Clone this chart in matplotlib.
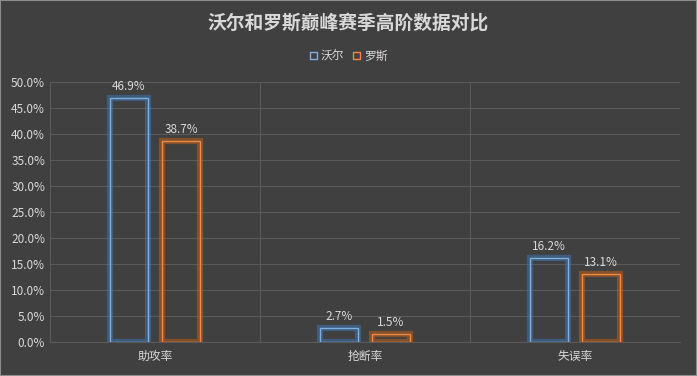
import matplotlib
matplotlib.use("Agg")
import matplotlib.pyplot as plt
import matplotlib.patheffects as pe
import numpy as np

plt.rcParams['font.family'] = ['Noto Sans CJK SC', 'DejaVu Sans']

categories = ["助攻率", "抢断率", "失误率"]
wall = [46.9, 2.7, 16.2]
ross = [38.7, 1.5, 13.1]
series_names = ["沃尔", "罗斯"]
yticks = [0, 5, 10, 15, 20, 25, 30, 35, 40, 45, 50]

bg = "#404040"
txt = "#d9d9d9"
blue = "#7fb0e0"
orange = "#f08a45"

fig = plt.figure(figsize=(6.97, 3.76), dpi=100, facecolor=bg)
fig.patches.append(plt.Rectangle((0, 0), 1, 1, transform=fig.transFigure,
                                 fill=False, edgecolor="#8c8c8c", linewidth=1.5))
ax = fig.add_axes([0.0717, 0.0904, 0.9039, 0.6916])
ax.set_facecolor(bg)

x = np.arange(len(categories))
w = 0.18
off = 0.124
glow_b = [pe.Stroke(linewidth=4.5, foreground="#3d6fa5", alpha=0.6), pe.Normal()]
glow_o = [pe.Stroke(linewidth=4.5, foreground="#b05c20", alpha=0.6), pe.Normal()]
b1 = ax.bar(x - off, wall, w, facecolor="none", edgecolor=blue, linewidth=1.0,
            label=series_names[0], zorder=3)
b2 = ax.bar(x + off, ross, w, facecolor="none", edgecolor=orange, linewidth=1.0,
            label=series_names[1], zorder=3)
for r in b1:
    r.set_path_effects(glow_b)
for r in b2:
    r.set_path_effects(glow_o)

for xs, vals in [(x - off, wall), (x + off, ross)]:
    for xi, v in zip(xs, vals):
        ax.text(xi, v + 1.0, "%.1f%%" % v, ha="center", va="bottom",
                color=txt, fontsize=8.5)

ax.set_xlim(-0.5, 2.5)
ax.set_ylim(0, 50)
ax.set_yticks(yticks)
ax.set_yticklabels(["%.1f%%" % t for t in yticks])
ax.set_xticks(x)
ax.set_xticklabels(categories)
ax.set_xticks([0.5, 1.5], minor=True)
ax.tick_params(axis="both", which="both", length=0, colors=txt, labelsize=8.5)
ax.tick_params(axis="x", pad=6)
ax.grid(axis="y", color="#5a5a5a", linewidth=0.8)
ax.grid(axis="x", which="minor", color="#5a5a5a", linewidth=0.8)
ax.set_axisbelow(True)
for s in ["top", "right"]:
    ax.spines[s].set_visible(False)
ax.spines["left"].set_color("#5a5a5a")
ax.spines["bottom"].set_color("#5a5a5a")

fig.text(0.5, 0.94, "沃尔和罗斯巅峰赛季高阶数据对比", ha="center", va="center",
         color=txt, fontsize=13.5, fontweight="bold")
leg = fig.legend(handles=[b1, b2], loc="center", bbox_to_anchor=(0.5, 0.85),
                 ncol=2, frameon=False, fontsize=8.5, labelcolor=txt,
                 handlelength=0.6, handleheight=0.6, handletextpad=0.3,
                 columnspacing=0.8)
for h in leg.legend_handles:
    h.set_path_effects([])

fig.savefig("out.png", facecolor=bg)
